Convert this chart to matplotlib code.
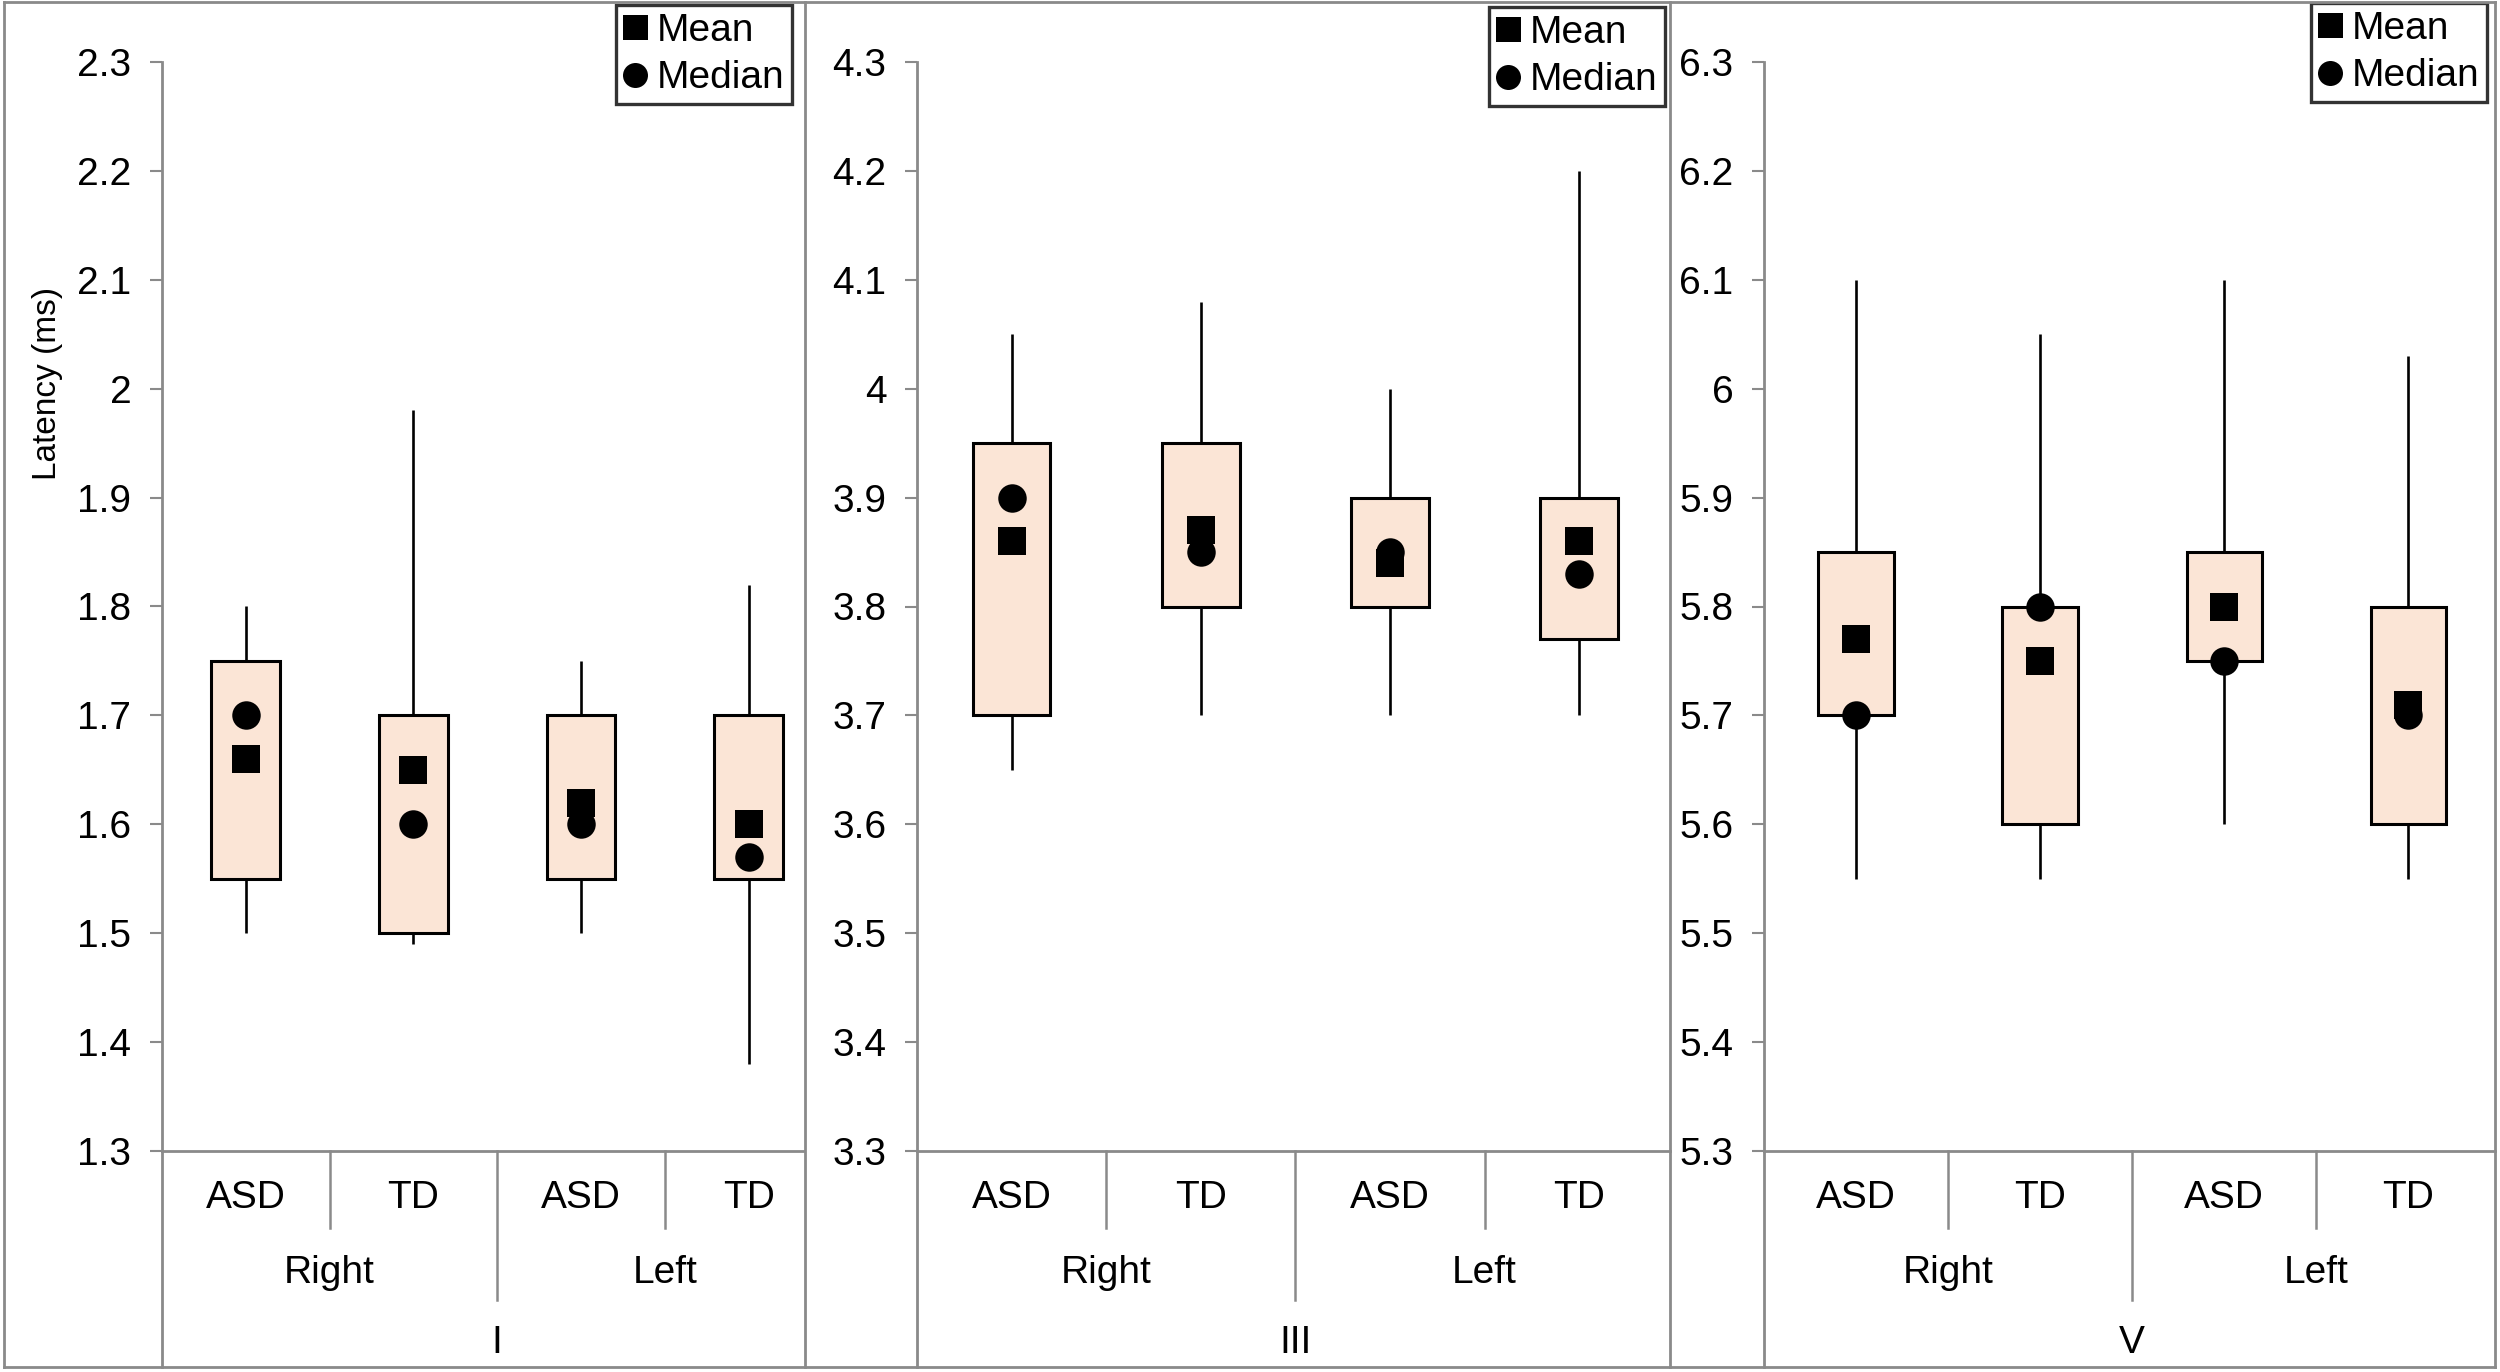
import numpy as np
import matplotlib
matplotlib.use('Agg')
import matplotlib.pyplot as plt
from matplotlib.lines import Line2D
from matplotlib.transforms import blended_transform_factory

plt.rcParams['font.family'] = ['Liberation Sans', 'DejaVu Sans']

# data
groups = ['ASD', 'TD', 'ASD', 'TD']
sides = ['Right', 'Left']
waves = ['I', 'III', 'V']
ylims = [(1.3, 2.3), (3.3, 4.3), (5.3, 6.3)]

# wave I
lo_I = [1.50, 1.49, 1.50, 1.38]
q1_I = [1.55, 1.50, 1.55, 1.55]
q3_I = [1.75, 1.70, 1.70, 1.70]
hi_I = [1.80, 1.98, 1.75, 1.82]
mean_I = [1.66, 1.65, 1.62, 1.60]
med_I = [1.70, 1.60, 1.60, 1.57]

# wave III
lo_III = [3.65, 3.70, 3.70, 3.70]
q1_III = [3.70, 3.80, 3.80, 3.77]
q3_III = [3.95, 3.95, 3.90, 3.90]
hi_III = [4.05, 4.08, 4.00, 4.20]
mean_III = [3.86, 3.87, 3.84, 3.86]
med_III = [3.90, 3.85, 3.85, 3.83]

# wave V
lo_V = [5.55, 5.55, 5.60, 5.55]
q1_V = [5.70, 5.60, 5.75, 5.60]
q3_V = [5.85, 5.80, 5.85, 5.80]
hi_V = [6.10, 6.05, 6.10, 6.03]
mean_V = [5.77, 5.75, 5.80, 5.71]
med_V = [5.70, 5.80, 5.75, 5.70]

series = [
    (lo_I, q1_I, q3_I, hi_I, mean_I, med_I),
    (lo_III, q1_III, q3_III, hi_III, mean_III, med_III),
    (lo_V, q1_V, q3_V, hi_V, mean_V, med_V),
]

W, H = 2500, 1372
fig = plt.figure(figsize=(25, 13.72), dpi=100)
GRAY = '#8a8a8a'
FILL = '#fbe5d6'
FS = 28


def fx(px):
    return px / W


def fy(py):
    return 1 - py / H


# panel layout in pixels: axis left, axis right, xmax, legend upper-right corner
layout = [
    (162, 804, 3.33, (792, 5)),
    (917, 1670, 3.48, (1665, 7)),
    (1764, 2495, 3.47, (2487, 3)),
]
y_top, y_bot = 62, 1151

# outer frame and panel separators
for xs, ys in [([4, 2495], [2, 2]), ([4, 2495], [1367, 1367]),
               ([4, 4], [2, 1367]), ([2495, 2495], [2, 1367]),
               ([805, 805], [2, 1367]), ([1670, 1670], [2, 1367])]:
    fig.add_artist(Line2D([fx(v) for v in xs], [fy(v) for v in ys],
                          color=GRAY, lw=2))

x = np.arange(4)
for i, (left, right, xmax, corner) in enumerate(layout):
    lo, q1, q3, hi, mn, md = [np.array(s) for s in series[i]]
    ax = fig.add_axes([fx(left), fy(y_bot), (right - left) / W, (y_bot - y_top) / H])
    ax.set_xlim(-0.5, xmax)
    ax.set_ylim(*ylims[i])

    ax.vlines(x, q3, hi, color='black', lw=1.9, zorder=1)
    ax.vlines(x, lo, q1, color='black', lw=1.9, zorder=1)
    ax.bar(x, q3 - q1, bottom=q1, width=0.41, color=FILL,
           edgecolor='black', linewidth=2.2, zorder=2)
    ax.plot(x, md, 'o', ms=20.5, color='black', mew=0, ls='none', zorder=3)
    ax.plot(x, mn, 's', ms=20.5, color='black', mew=0, ls='none', zorder=4)

    yt = np.round(np.linspace(ylims[i][0], ylims[i][1], 11), 1)
    ax.set_yticks(yt)
    ax.set_yticklabels([f'{v:g}' for v in yt])
    ax.set_xticks([])
    ax.tick_params(axis='y', direction='out', length=9, width=1.5,
                   color=GRAY, pad=13, labelsize=FS)
    for s in ['top', 'right']:
        ax.spines[s].set_visible(False)
    for s in ['left', 'bottom']:
        ax.spines[s].set_color(GRAY)
        ax.spines[s].set_linewidth(2)

    tr = blended_transform_factory(ax.transData, fig.transFigure)
    tra = blended_transform_factory(ax.transAxes, fig.transFigure)
    # y axis line continues through the category table
    ax.plot([0, 0], [fy(y_bot), fy(1367)], transform=tra, color=GRAY,
            lw=2, clip_on=False)
    # category separators
    for sx, sy in [(0.5, 1228), (2.5, 1228), (1.5, 1300)]:
        ax.plot([sx, sx], [fy(y_bot), fy(sy)], transform=tr, color=GRAY,
                lw=1.8, clip_on=False)
    for k, g in enumerate(groups):
        ax.text(k, fy(1198), g, transform=tr, ha='center', va='center',
                fontsize=FS)
    for k, s in enumerate(sides):
        ax.text(0.5 + 2 * k, fy(1273), s, transform=tr, ha='center',
                va='center', fontsize=FS)
    ax.text(1.5, fy(1343), waves[i], transform=tr, ha='center',
            va='center', fontsize=FS)

    if i == 0:
        ax.set_ylabel('Latency (ms)', fontsize=24, va='center')
        ax.yaxis.set_label_coords((48 - left) / (right - left),
                                  (y_bot - 383) / (y_bot - y_top))

    handles = [Line2D([], [], marker='s', ls='none', color='black', ms=18, mew=0),
               Line2D([], [], marker='o', ls='none', color='black', ms=18, mew=0)]
    leg = ax.legend(handles, ['Mean', 'Median'], loc='upper right',
                    bbox_to_anchor=(fx(corner[0]), fy(corner[1])),
                    bbox_transform=fig.transFigure, fontsize=FS,
                    frameon=True, fancybox=False, borderpad=0.2,
                    labelspacing=0.3, handlelength=0.6, handletextpad=0.25,
                    borderaxespad=0)
    leg.get_frame().set_edgecolor('black')
    leg.get_frame().set_linewidth(2.4)

fig.savefig('out.png', dpi=100, facecolor='white')
